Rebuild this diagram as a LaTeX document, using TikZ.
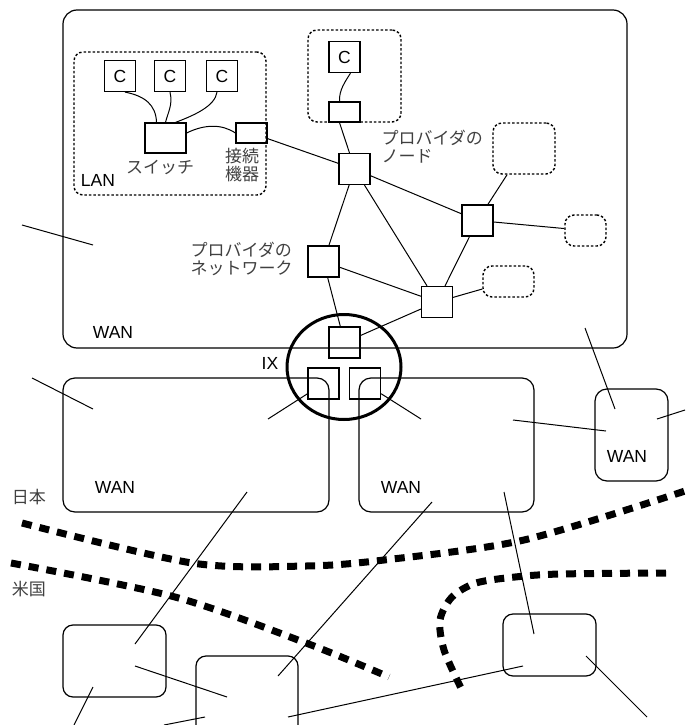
\documentclass[tikz,border=0pt]{standalone}
\usepackage{fontspec}
\setmainfont{Liberation Sans}
\newfontfamily\jpfont{Noto Sans CJK JP}
\usetikzlibrary{shapes.geometric}

\begin{document}
\begin{tikzpicture}[x=1pt,y=-1pt,line width=1pt,
  txt/.style={font=\fontsize{17.5}{20}\selectfont},
  jp/.style={font=\jpfont\fontsize{17}{18}\selectfont,text=black!75,align=left,inner sep=0pt},
  box/.style={draw,line width=1.2pt,minimum width=31pt,minimum height=31pt,inner sep=0pt,txt},
  flatbox/.style={box,minimum height=20pt},
  area/.style={line width=1.2pt,rounded corners=14pt},
  dots/.style={draw,line width=1.4pt,dash pattern=on 2.5pt off 2pt,rounded corners=9pt,inner sep=0pt},
  border/.style={line width=7pt,dash pattern=on 10pt off 8pt}]
  \useasboundingbox (0,0) rectangle (685,725);

  \draw[area] (63,10) rectangle (627,348);
  \draw[area,rounded corners=12pt] (63,378) rectangle (329,512);
  \draw[area,rounded corners=12pt] (359,378) rectangle (534,512);
  \draw[area,rounded corners=12pt] (595,389) rectangle (668,481);
  \draw[area,rounded corners=10pt] (63,625) rectangle (166,697);
  \draw[area,rounded corners=10pt] (196,656) rectangle (298,745);
  \draw[area,rounded corners=10pt] (503,614) rectangle (596,676);
  \node[txt] (wantop) at (113,332) {WAN};
  \node[txt] (wanjp1) at (115,487) {WAN};
  \node[txt] (wanjp2) at (401,487) {WAN};
  \node[txt] (wanright) at (627,456) {WAN};

  \node[dots,minimum width=192pt,minimum height=143pt] (lan) at (170,123.5) {};
  \node[txt] (lanlabel) at (98,180) {LAN};
  \node[box] (c1) at (120,76) {C};
  \node[box] (c2) at (170,76) {C};
  \node[box] (c3) at (222,76) {C};
  \node[box,minimum width=41pt,minimum height=30pt] (sw) at (165.5,138) {};
  \node[flatbox] (gw) at (251.5,133) {};
  \node[jp] (swlabel) at (160,167) {スイッチ};
  \node[jp,align=center] (gwlabel) at (242,165) {接続\\機器};
  \draw ([xshift=5pt]c1.south) .. controls (145,96) and (156,105) .. ([xshift=-9pt]sw.north);
  \draw (c2.south) .. controls (173,105) and (168,112) .. (sw.north);
  \draw ([xshift=-5pt]c3.south) .. controls (215,106) and (195,115) .. ([xshift=10pt]sw.north);
  \draw ([yshift=5pt]sw.east) .. controls (205,124) and (222,124) .. (gw.west);

  \node[dots,minimum width=93pt,minimum height=92pt] (home) at (354.5,76) {};
  \node[box] (c4) at (344.5,57) {C};
  \node[flatbox] (gw2) at (344.5,112) {};
  \draw ([xshift=6pt]c4.south) .. controls (345,82) and (339,90) .. ([xshift=-5pt]gw2.north);

  \node[box] (n1) at (354.5,169) {};
  \node[box] (n2) at (477.5,220.5) {};
  \node[box] (n3) at (323.5,261.5) {};
  \node[box] (n4) at (437,302) {};
  \node[box] (ix1) at (344.5,342.5) {};
  \node[box] (ix2) at (323.5,383.5) {};
  \node[box] (ix3) at (365,383.5) {};
  \node[ellipse,draw,line width=3pt,minimum width=114pt,minimum height=105pt] (ix) at (344,367) {};
  \node[txt] (ixlabel) at (270,363) {IX};
  \node[dots,minimum width=62pt,minimum height=51pt] (d1) at (524,148.5) {};
  \node[dots,minimum width=41pt,minimum height=31pt] (d2) at (585.5,230.5) {};
  \node[dots,minimum width=51pt,minimum height=31pt] (d3) at (508.5,281.5) {};
  \node[jp,anchor=west] (nodelabel) at (381,147) {プロバイダの\\ノード};
  \node[jp,anchor=east] (netlabel) at (293,259) {プロバイダの\\ネットワーク};

  \draw (gw) -- (n1);
  \draw ([xshift=-5pt]gw2.south) -- ([xshift=-5pt]n1.north);
  \draw (n1) -- (n2);
  \draw (n1) -- (n3);
  \draw (n1) -- (n4);
  \draw (n2) -- (n4);
  \draw (n3) -- (n4);
  \draw (n2) -- (d1);
  \draw (n2) -- (d2);
  \draw (n4) -- (d3);
  \draw (n3) -- (ix1);
  \draw (n4) -- (ix1);
  \draw (ix2) -- (268,419);
  \draw (ix3) -- (421,419);

  \draw (22,225) -- (93,245);
  \draw (32,378) -- (93,409);
  \draw (585,328) -- (615,409);
  \draw (657,419) -- (685,410);
  \draw (513,420) -- (606,431);
  \draw (247,492) -- (135,644);
  \draw (432,502) -- (278,676);
  \draw (504,492) -- (534,634);
  \draw (135,666) -- (227,697);
  \draw (93,687) -- (74,725);
  \draw (205,717) -- (164,725);
  \draw (288,717) -- (523,666);
  \draw (586,656) -- (647,717);

  \draw[border] plot[smooth] coordinates {(22,523) (192,563) (306,566) (384,560) (524,540) (685,491)};
  \draw[border] plot[smooth] coordinates {(11,563) (175,597) (306,643) (389,677)};
  \draw[border] plot[smooth] coordinates {(666,573) (560,574) (515,577) (476,583) (452,597) (440,620) (444,650) (461,688)};
  \node[jp] (japan) at (29,497) {日本};
  \node[jp] (usa) at (29,589) {米国};
\end{tikzpicture}
\end{document}
